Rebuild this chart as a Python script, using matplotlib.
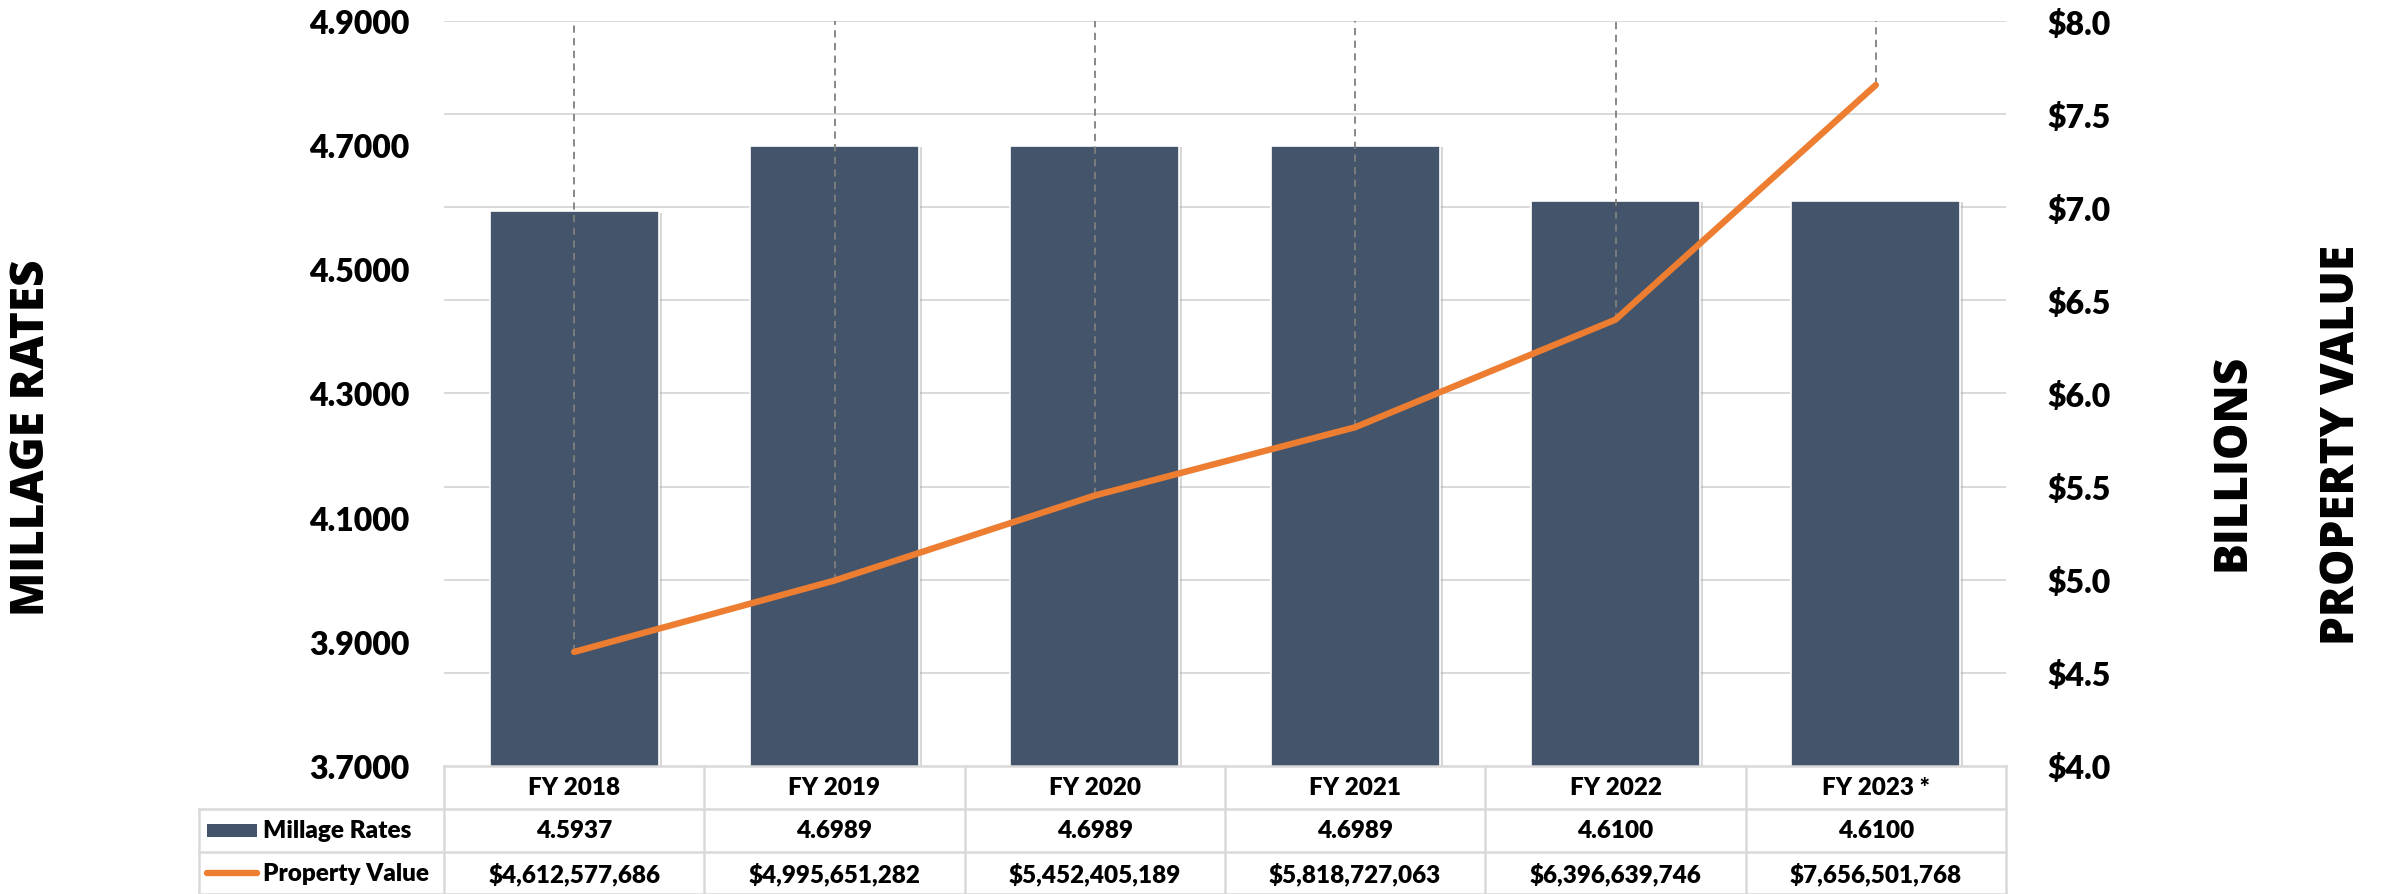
import matplotlib
matplotlib.use("Agg")
import matplotlib.pyplot as plt
import matplotlib.transforms as mtransforms
import matplotlib.patheffects as pe
from matplotlib.lines import Line2D
from matplotlib.patches import Rectangle
import numpy as np

# ---------------- data ----------------
categories = ["FY 2018", "FY 2019", "FY 2020", "FY 2021", "FY 2022", "FY 2023 *"]
millage_rates = [4.5937, 4.6989, 4.6989, 4.6989, 4.6100, 4.6100]
property_value = [4612577686, 4995651282, 5452405189, 5818727063, 6396639746, 7656501768]
left_ticks = [3.7, 3.9, 4.1, 4.3, 4.5, 4.7, 4.9]
right_ticks = [4.0, 4.5, 5.0, 5.5, 6.0, 6.5, 7.0, 7.5, 8.0]
series_names = ["Millage Rates", "Property Value"]

BAR_C = "#44546A"
LINE_C = "#ED7D31"
GRID_C = "#D9D9D9"
TICK_FONT = dict(family=["Lato", "DejaVu Sans"], weight="heavy")
TITLE_FONT = dict(family=["Open Sans", "DejaVu Sans"], weight="heavy")

W, H = 2387, 895
fig = plt.figure(figsize=(W / 100, H / 100), dpi=100)
L, R, T, B = 444, 2006, 22, 767
ax = fig.add_axes([L / W, (H - B) / H, (R - L) / W, (B - T) / H])
ax2 = ax.twinx()

x = np.arange(len(categories))
ax.set_xlim(-0.5, len(categories) - 0.5)
ax.set_ylim(left_ticks[0], left_ticks[-1])
ax2.set_ylim(right_ticks[0], right_ticks[-1])

# gridlines belonging to the right axis, drawn behind bars on the left axis
lo, hi = left_ticks[0], left_ticks[-1]
rlo, rhi = right_ticks[0], right_ticks[-1]
for v in right_ticks[1:]:
    ax.axhline(lo + (v - rlo) / (rhi - rlo) * (hi - lo), color=GRID_C, lw=1.4, zorder=0)

bars = ax.bar(x, millage_rates, width=0.65, color=BAR_C, edgecolor="white",
              linewidth=1.2, zorder=2)
for b in bars:
    b.set_path_effects([pe.SimplePatchShadow(offset=(2, -1), shadow_rgbFace="#909090", alpha=0.35),
                        pe.Normal()])

prop_b = np.array(property_value) / 1e9
ax2.vlines(x, prop_b, rhi, colors="#7F7F7F", linestyles=(0, (4, 3)), lw=1.3, zorder=3)
ax2.plot(x, prop_b, color=LINE_C, lw=4.6, solid_capstyle="round", zorder=4)

# axes styling
for a in (ax, ax2):
    for s in a.spines.values():
        s.set_visible(False)
    a.tick_params(length=0)
ax2.patch.set_visible(False)
ax.set_xticks([])
ax.set_yticks(left_ticks)
ax.set_yticklabels([f"{v:.4f}" for v in left_ticks], fontsize=23, **TICK_FONT)
ax.tick_params(axis="y", pad=25)
ax2.set_yticks(right_ticks)
ax2.set_yticklabels([f"${v:.1f}" for v in right_ticks], fontsize=23, **TICK_FONT)
ax2.tick_params(axis="y", pad=30)

# axis titles
fig.text(32 / W, 1 - 438 / H, "MILLAGE RATES", rotation=90, ha="center", va="center",
         fontsize=33, **TITLE_FONT)
fig.text(2232 / W, 1 - 462 / H, "BILLIONS", rotation=90, ha="center", va="center",
         fontsize=33, **TITLE_FONT)
fig.text(2342 / W, 1 - 445 / H, "PROPERTY VALUE", rotation=90, ha="center", va="center",
         fontsize=33, **TITLE_FONT)

# ---------------- data table ----------------
tr = mtransforms.blended_transform_factory(ax.transData, ax.transAxes)
ph = B - T
row_h = 43 / ph
y0 = 0.0
y1 = -row_h
y2 = -2 * row_h
y3 = -(H - B) / ph
unit = (R - L) / len(categories)
leg_left = -0.5 - (L - 199) / unit

def hline(xa, xb, y):
    ax.add_line(Line2D([xa, xb], [y, y], transform=tr, color=GRID_C, lw=1.8, clip_on=False, zorder=5))

def vline(xx, ya, yb):
    ax.add_line(Line2D([xx, xx], [ya, yb], transform=tr, color=GRID_C, lw=1.8, clip_on=False, zorder=5))

hline(-0.5, len(categories) - 0.5, y0)
hline(leg_left, len(categories) - 0.5, y1)
hline(leg_left, len(categories) - 0.5, y2)
hline(leg_left, len(categories) - 0.5, y3)
for k in range(len(categories) + 1):
    vline(k - 0.5, y0, y3)
vline(leg_left, y1, y3)

TF = dict(family=["Lato", "DejaVu Sans"], weight="heavy", fontsize=17.5)
for i, c in enumerate(categories):
    ax.text(i, (y0 + y1) / 2, c, transform=tr, ha="center", va="center", clip_on=False, **TF)
    ax.text(i, (y1 + y2) / 2, f"{millage_rates[i]:.4f}", transform=tr, ha="center", va="center",
            clip_on=False, **TF)
    ax.text(i, (y2 + y3) / 2, f"${property_value[i]:,.0f}", transform=tr, ha="center", va="center",
            clip_on=False, **TF)

# legend keys in the table
kx0 = leg_left + 8 / unit
kx1 = leg_left + 58 / unit
ax.add_patch(Rectangle((kx0, (y1 + y2) / 2 - 6.5 / ph), kx1 - kx0, 13 / ph, transform=tr,
                       facecolor=BAR_C, edgecolor="none", clip_on=False, zorder=5))
ax.add_line(Line2D([kx0, kx1], [(y2 + y3) / 2] * 2, transform=tr, color=LINE_C, lw=4.6,
                   solid_capstyle="round", clip_on=False, zorder=5))
ax.text(leg_left + 64 / unit, (y1 + y2) / 2, series_names[0], transform=tr, ha="left", va="center",
        clip_on=False, **TF)
ax.text(leg_left + 64 / unit, (y2 + y3) / 2, series_names[1], transform=tr, ha="left", va="center",
        clip_on=False, **TF)

fig.savefig("out.png", dpi=100, facecolor="white")
